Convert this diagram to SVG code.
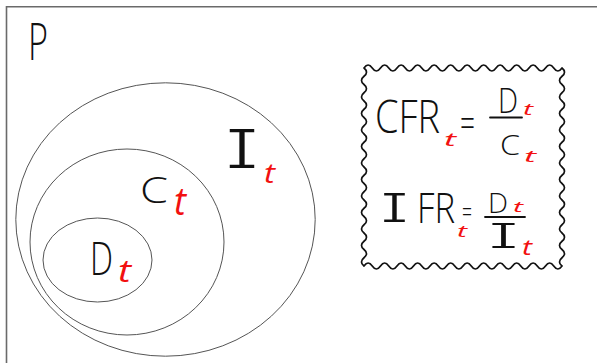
<svg xmlns="http://www.w3.org/2000/svg" width="597" height="363" viewBox="0 0 597 363">
<style>
.ink{font-family:"Open Sans","DejaVu Sans",sans-serif;font-weight:300;fill:#111}
.mono{font-family:Inter,"Liberation Serif",serif;font-weight:300;font-feature-settings:"cv08" 1;fill:#111}
.sub{font-family:"Open Sans","DejaVu Sans",sans-serif;font-weight:400;font-style:italic;fill:#f21010}
.set{fill:none;stroke:#555;stroke-width:1}
.bar{stroke:#111;stroke-width:1.8;stroke-linecap:round}
</style>
<rect width="597" height="363" fill="#fff"/>
<g id="frame">
<path d="M6.5 363 V6.75 H597" fill="none" stroke="#6a6a6a" stroke-width="1.6"/>
<text class="ink" x="28" y="60" font-size="52" textLength="20" lengthAdjust="spacingAndGlyphs">P</text>
</g>
<g id="setI">
<ellipse class="set" cx="165.5" cy="219.5" rx="149.7" ry="136.7"/>
<text class="mono" x="226" y="168" font-size="54" textLength="32" lengthAdjust="spacingAndGlyphs">I</text>
<text class="sub" x="264" y="183" font-size="28" textLength="11" lengthAdjust="spacingAndGlyphs">t</text>
</g>
<g id="setC">
<ellipse class="set" cx="127" cy="242" rx="97" ry="93"/>
<text class="ink" x="140" y="203" font-size="36" textLength="28" lengthAdjust="spacingAndGlyphs">C</text>
<text class="sub" x="174" y="215" font-size="38" textLength="12" lengthAdjust="spacingAndGlyphs">t</text>
</g>
<g id="setD">
<ellipse class="set" cx="97.5" cy="260" rx="54.5" ry="42"/>
<text class="ink" x="90" y="275" font-size="46" textLength="23" lengthAdjust="spacingAndGlyphs">D</text>
<text class="sub" x="118" y="282" font-size="31" textLength="13" lengthAdjust="spacingAndGlyphs">t</text>
</g>
<g id="formulaBox">
<path fill="none" stroke="#111" stroke-width="1.7" stroke-linejoin="round" d="M364 68 q4.125 -6 8.25 0 t8.25 0 t8.25 0 t8.25 0 t8.25 0 t8.25 0 t8.25 0 t8.25 0 t8.25 0 t8.25 0 t8.25 0 t8.25 0 t8.25 0 t8.25 0 t8.25 0 t8.25 0 t8.25 0 t8.25 0 t8.25 0 t8.25 0 t8.25 0 t8.25 0 t8.25 0 t8.25 0 q5 4.125 0 8.25 t0 8.25 t0 8.25 t0 8.25 t0 8.25 t0 8.25 t0 8.25 t0 8.25 t0 8.25 t0 8.25 t0 8.25 t0 8.25 t0 8.25 t0 8.25 t0 8.25 t0 8.25 t0 8.25 t0 8.25 t0 8.25 t0 8.25 t0 8.25 t0 8.25 t0 8.25 t0 8.25 q-4.125 6 -8.25 0 t-8.25 0 t-8.25 0 t-8.25 0 t-8.25 0 t-8.25 0 t-8.25 0 t-8.25 0 t-8.25 0 t-8.25 0 t-8.25 0 t-8.25 0 t-8.25 0 t-8.25 0 t-8.25 0 t-8.25 0 t-8.25 0 t-8.25 0 t-8.25 0 t-8.25 0 t-8.25 0 t-8.25 0 t-8.25 0 t-8.25 0 q-5 -4.125 0 -8.25 t0 -8.25 t0 -8.25 t0 -8.25 t0 -8.25 t0 -8.25 t0 -8.25 t0 -8.25 t0 -8.25 t0 -8.25 t0 -8.25 t0 -8.25 t0 -8.25 t0 -8.25 t0 -8.25 t0 -8.25 t0 -8.25 t0 -8.25 t0 -8.25 t0 -8.25 t0 -8.25 t0 -8.25 t0 -8.25 t0 -8.25 Z"/>
<text class="ink" x="375" y="133" font-size="46" textLength="65" lengthAdjust="spacingAndGlyphs">CFR</text>
<text class="sub" x="444" y="146" font-size="19" textLength="12" lengthAdjust="spacingAndGlyphs">t</text>
<text class="ink" x="460" y="137" font-size="40" textLength="15" lengthAdjust="spacingAndGlyphs">=</text>
<text class="ink" x="498" y="113" font-size="35" textLength="20" lengthAdjust="spacingAndGlyphs">D</text>
<text class="sub" x="523" y="115" font-size="17" textLength="10" lengthAdjust="spacingAndGlyphs">t</text>
<line class="bar" x1="490" y1="117.5" x2="522" y2="117.5"/>
<text class="ink" x="500" y="155" font-size="28" textLength="20" lengthAdjust="spacingAndGlyphs">C</text>
<text class="sub" x="524" y="162" font-size="17" textLength="12" lengthAdjust="spacingAndGlyphs">t</text>
<text class="mono" x="381" y="222" font-size="40" textLength="27" lengthAdjust="spacingAndGlyphs">I</text>
<text class="ink" x="417" y="223" font-size="42" textLength="38" lengthAdjust="spacingAndGlyphs">FR</text>
<text class="sub" x="457" y="237" font-size="16" textLength="10" lengthAdjust="spacingAndGlyphs">t</text>
<text class="ink" x="462" y="222" font-size="30" textLength="10" lengthAdjust="spacingAndGlyphs">=</text>
<text class="ink" x="488" y="213" font-size="28" textLength="20" lengthAdjust="spacingAndGlyphs">D</text>
<text class="sub" x="513" y="212" font-size="15" textLength="10" lengthAdjust="spacingAndGlyphs">t</text>
<line class="bar" x1="485" y1="217" x2="525" y2="217"/>
<text class="mono" x="489" y="248" font-size="34" textLength="29" lengthAdjust="spacingAndGlyphs">I</text>
<text class="sub" x="522" y="255" font-size="21" textLength="10" lengthAdjust="spacingAndGlyphs">t</text>
</g>
</svg>
